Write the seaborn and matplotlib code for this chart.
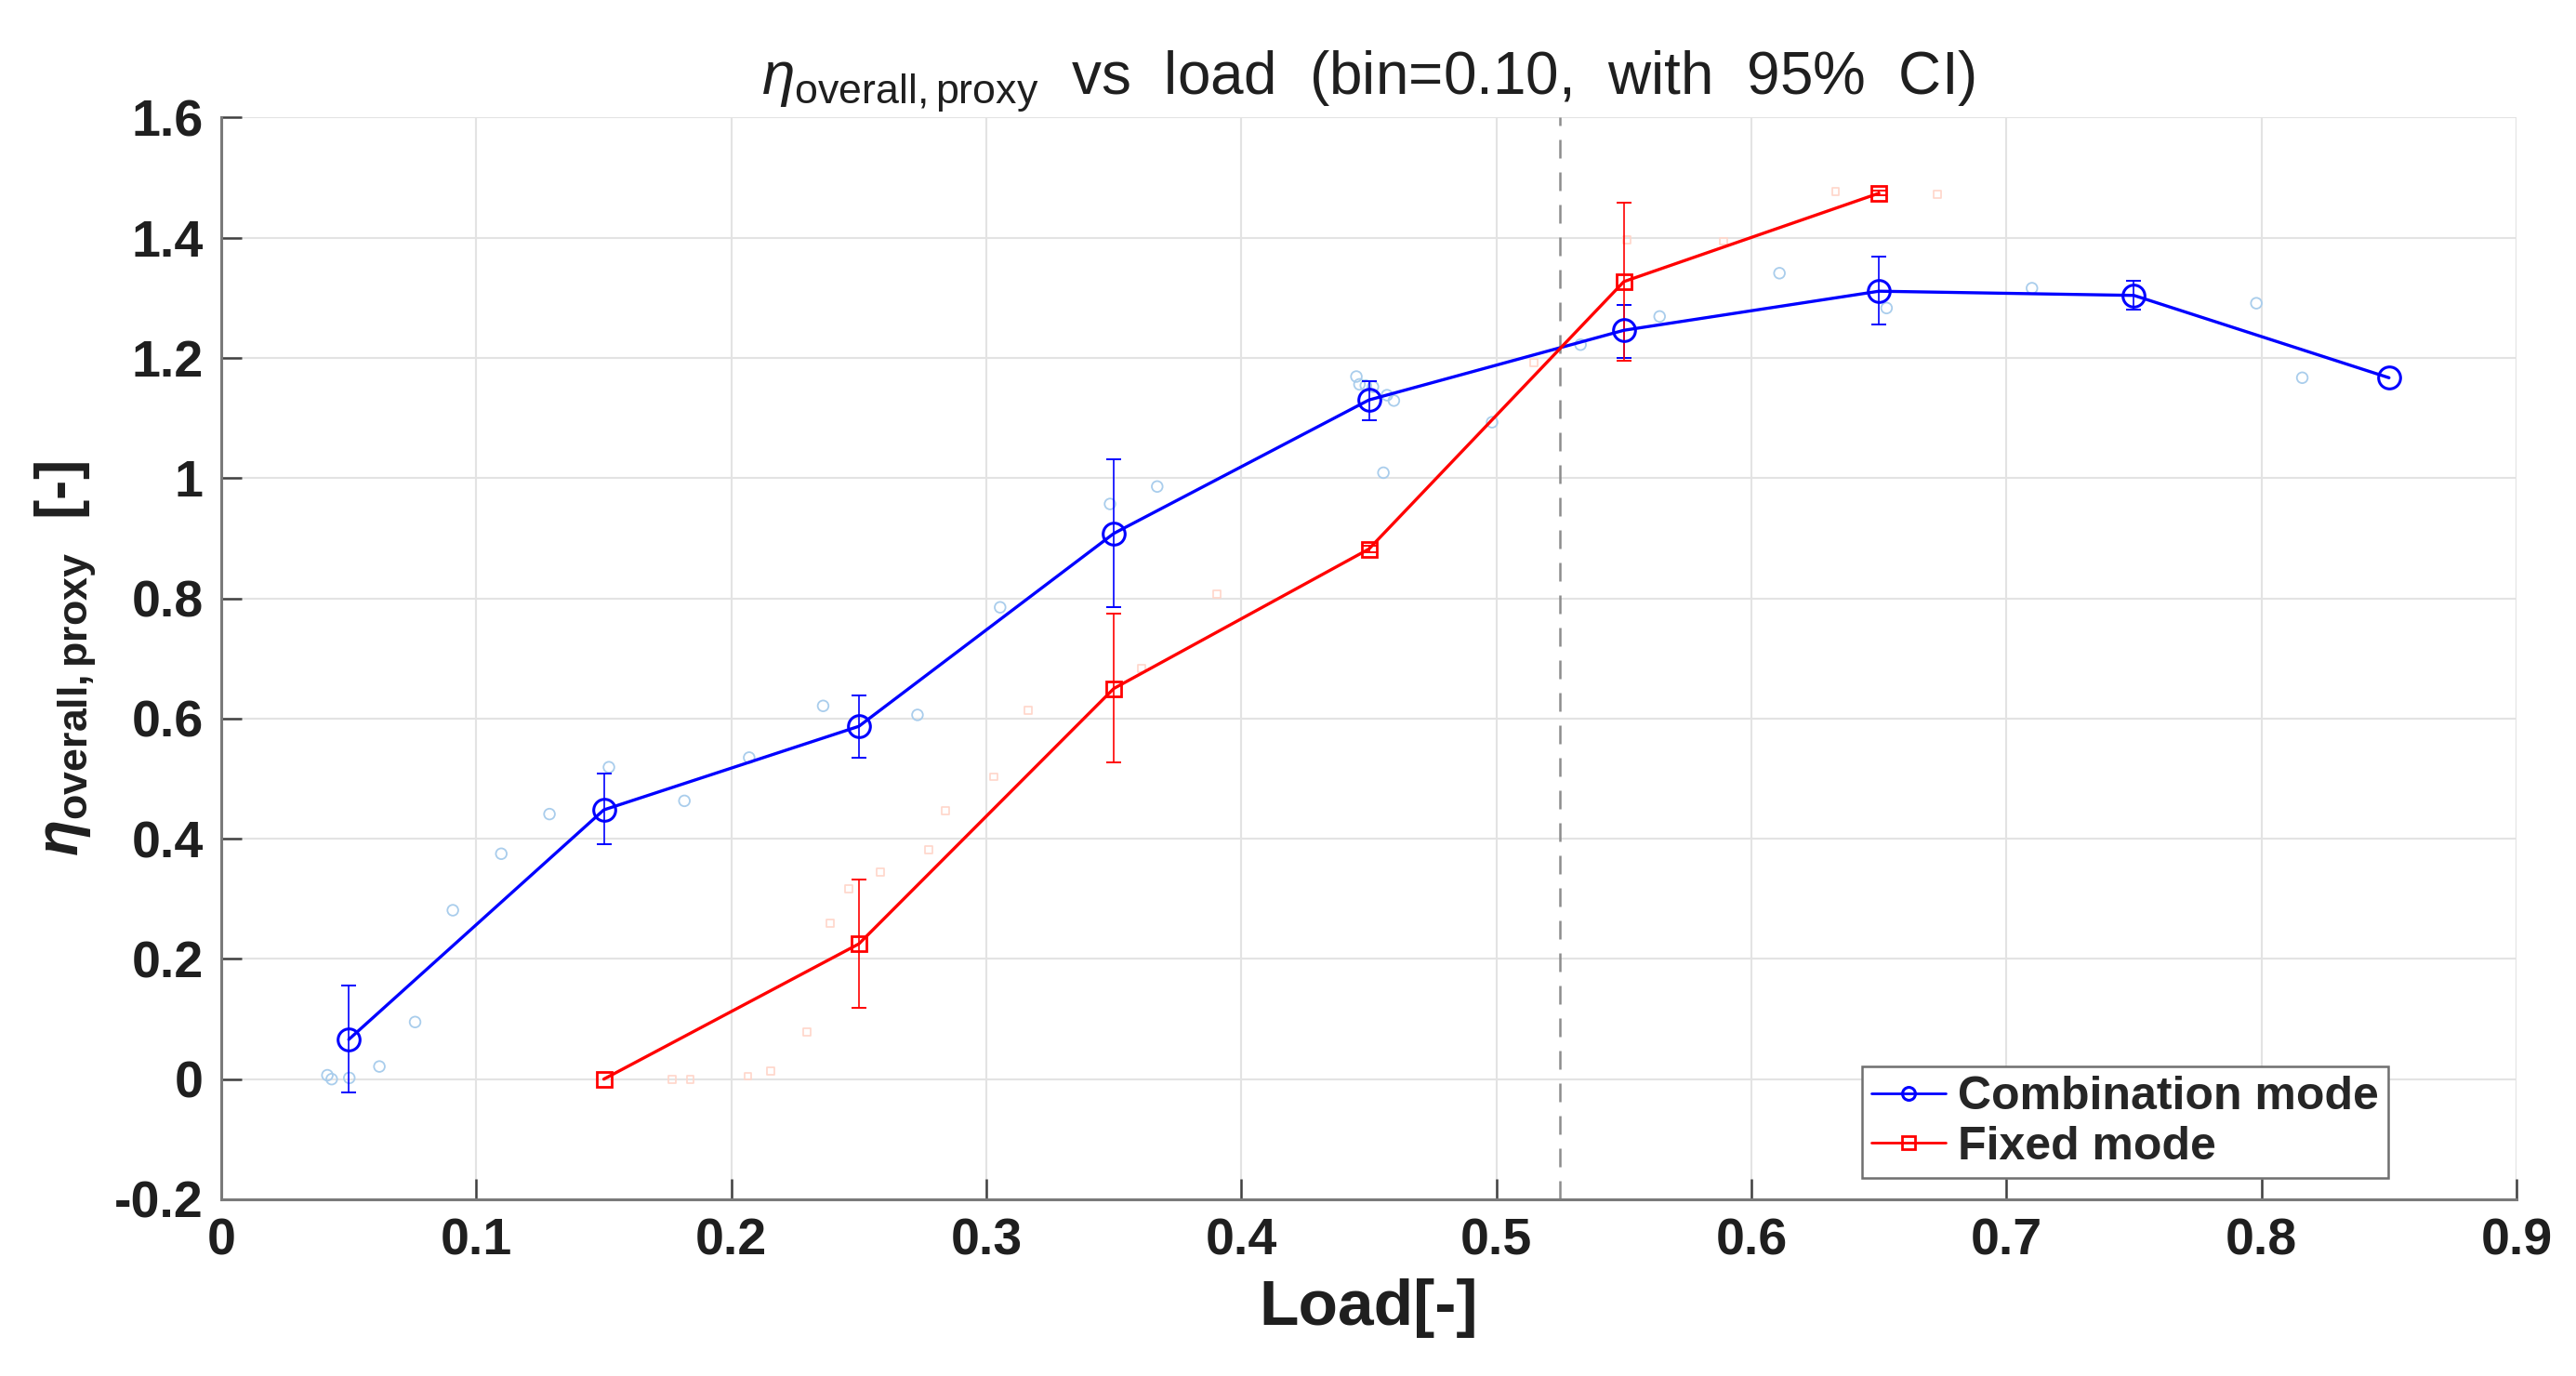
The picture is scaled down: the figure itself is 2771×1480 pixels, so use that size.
import numpy as np
import pandas as pd
import matplotlib
matplotlib.use("Agg")
import matplotlib.pyplot as plt
import seaborn as sns
from matplotlib.ticker import FuncFormatter

# binned means and 95% CI (bin centres, bin width 0.10)
comb_load = [0.05, 0.15, 0.25, 0.35, 0.45, 0.55, 0.65, 0.75, 0.85]
comb_eta = [0.066, 0.448, 0.587, 0.908, 1.130, 1.246, 1.311, 1.304, 1.167]
comb_lo = [-0.022, 0.391, 0.535, 0.785, 1.097, 1.200, 1.256, 1.280, np.nan]
comb_hi = [0.155, 0.508, 0.638, 1.032, 1.161, 1.288, 1.368, 1.328, np.nan]

fixed_load = [0.15, 0.25, 0.35, 0.45, 0.55, 0.65]
fixed_eta = [0.000, 0.225, 0.650, 0.882, 1.327, 1.474]
fixed_lo = [np.nan, 0.119, 0.527, 0.877, 1.195, 1.470]
fixed_hi = [np.nan, 0.332, 0.775, 0.887, 1.459, 1.478]

# raw samples (faint markers)
comb_raw_load = [0.0416, 0.0433, 0.0502, 0.062, 0.076, 0.0908, 0.1098, 0.1287, 0.152,
                 0.1816, 0.207, 0.236, 0.273, 0.3054, 0.3485, 0.367, 0.4451, 0.4463,
                 0.4488, 0.4516, 0.4571, 0.4598, 0.4557, 0.4983, 0.533, 0.564, 0.611,
                 0.653, 0.710, 0.798, 0.816]
comb_raw_eta = [0.0065, 0.0, 0.002, 0.021, 0.095, 0.281, 0.375, 0.441, 0.519,
                0.463, 0.535, 0.621, 0.606, 0.785, 0.957, 0.986, 1.169, 1.156,
                1.154, 1.152, 1.138, 1.129, 1.009, 1.093, 1.222, 1.269, 1.341,
                1.283, 1.316, 1.291, 1.167]
fixed_raw_load = [0.1768, 0.1839, 0.2065, 0.2153, 0.2295, 0.2387, 0.2462, 0.2584, 0.2774,
                  0.2839, 0.303, 0.3165, 0.3608, 0.3905, 0.5146, 0.551, 0.589, 0.633, 0.673]
fixed_raw_eta = [0.0, 0.0, 0.005, 0.0136, 0.078, 0.259, 0.317, 0.345, 0.382,
                 0.447, 0.503, 0.613, 0.683, 0.807, 1.192, 1.396, 1.394, 1.477, 1.472]

crossover_load = 0.525

sns.set_theme(style="whitegrid")
plt.rcParams["font.family"] = ["Liberation Sans", "DejaVu Sans"]
plt.rcParams["mathtext.fontset"] = "custom"
plt.rcParams["mathtext.rm"] = "Liberation Sans"
plt.rcParams["mathtext.it"] = "Liberation Sans:italic"
plt.rcParams["mathtext.bf"] = "Liberation Sans:bold"
plt.rcParams["mathtext.bfit"] = "Liberation Sans:italic:bold"

fig, ax = plt.subplots(figsize=(27.71, 14.8), dpi=100)
fig.subplots_adjust(left=0.0859, right=0.9769, bottom=0.1284, top=0.9146)

sns.scatterplot(x=comb_raw_load, y=comb_raw_eta, marker="o", s=70, color="#a9cdec",
                facecolors="none", edgecolor="#a9cdec", linewidth=1.3, legend=False, ax=ax)
sns.scatterplot(x=fixed_raw_load, y=fixed_raw_eta, marker="s", s=32, color="#ffd6ca",
                facecolors="none", edgecolor="#ffd6ca", linewidth=1.2, legend=False, ax=ax)

ax.axvline(crossover_load, color="#8c8c8c", linestyle=(0, (8, 6)), linewidth=1.8, zorder=1)

comb = pd.DataFrame({"load": comb_load, "eta": comb_eta, "lo": comb_lo, "hi": comb_hi})
fixed = pd.DataFrame({"load": fixed_load, "eta": fixed_eta, "lo": fixed_lo, "hi": fixed_hi})

ax.errorbar(comb["load"], comb["eta"], yerr=[comb["eta"] - comb["lo"], comb["hi"] - comb["eta"]],
            fmt="none", ecolor="blue", elinewidth=1.2, capsize=6, capthick=1.4, zorder=3)
ax.errorbar(fixed["load"], fixed["eta"], yerr=[fixed["eta"] - fixed["lo"], fixed["hi"] - fixed["eta"]],
            fmt="none", ecolor="red", elinewidth=1.2, capsize=6, capthick=1.4, zorder=3)

sns.lineplot(data=comb, x="load", y="eta", color="blue", linewidth=2.4, marker="o",
             markersize=17, markerfacecolor="none", markeredgecolor="blue", markeredgewidth=2.2,
             errorbar=None, label="Combination mode", ax=ax, zorder=4)
sns.lineplot(data=fixed, x="load", y="eta", color="red", linewidth=2.4, marker="s",
             markersize=12, markerfacecolor="none", markeredgecolor="red", markeredgewidth=2.0,
             errorbar=None, label="Fixed mode", ax=ax, zorder=4)

ax.set_xlim(0, 0.9)
ax.set_ylim(-0.2, 1.6)
ax.set_xticks(np.arange(0, 0.91, 0.1))
ax.set_yticks(np.arange(-0.2, 1.61, 0.2))
fmt = FuncFormatter(lambda v, p: "%g" % round(v, 2))
ax.xaxis.set_major_formatter(fmt)
ax.yaxis.set_major_formatter(fmt)

ax.grid(True, color="#e3e3e3", linewidth=1.5)
ax.set_axisbelow(True)
for side in ["top", "right"]:
    ax.spines[side].set_visible(False)
for side in ["left", "bottom"]:
    ax.spines[side].set_color("#7a7a7a")
    ax.spines[side].set_linewidth(2.2)
ax.tick_params(direction="in", length=16, width=1.8, color="#404040", labelcolor="#1f1f1f",
               labelsize=40, pad=14, left=True, bottom=True)
for lab in ax.get_xticklabels() + ax.get_yticklabels():
    lab.set_fontweight("bold")

ax.set_xlabel("Load[-]", fontsize=50, fontweight="bold", color="#1f1f1f", labelpad=10)
ax.set_ylabel(r"$\mathbfit{\eta}_{\mathbf{overall,proxy}}$  [-]", fontsize=46,
              fontweight="bold", color="#1f1f1f", labelpad=12)
ax.set_title(r"$\eta_{\mathrm{overall,proxy}}$  vs  load  (bin=0.10,  with  95%  CI)",
             fontsize=46, color="#1f1f1f", pad=18)

leg = ax.legend(loc="lower right", bbox_to_anchor=(0.944, 0.02),
                prop={"weight": "bold", "size": 36}, frameon=True, fancybox=False,
                handlelength=1.6, handletextpad=0.25, borderpad=0.2, labelspacing=0.15,
                borderaxespad=0)
leg.get_frame().set_edgecolor("#6f6f6f")
leg.get_frame().set_linewidth(1.8)
leg.get_frame().set_alpha(1)
for h in leg.legend_handles:
    h.set_markersize(10)
    h.set_linewidth(2.0)

fig.savefig("out.png", dpi=100, facecolor="white")
